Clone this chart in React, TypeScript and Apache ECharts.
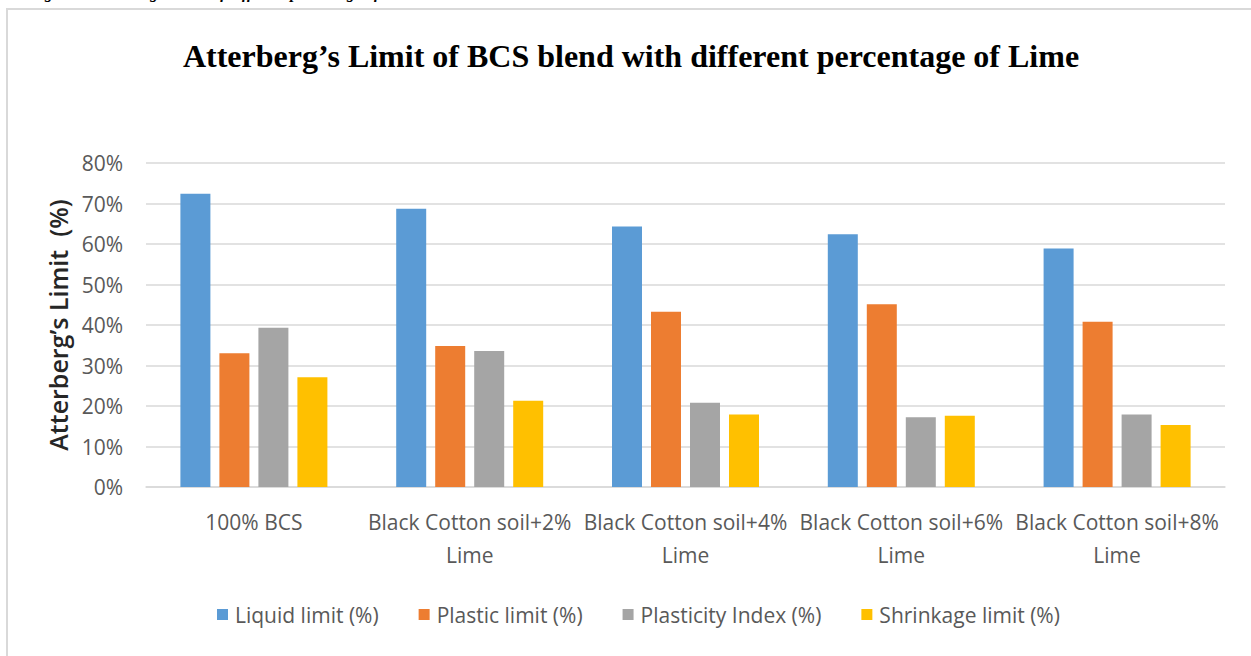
import React, { useEffect, useRef } from "react";
import * as echarts from "echarts";

const categories = [
  "100% BCS",
  "Black Cotton soil+2%\nLime",
  "Black Cotton soil+4%\nLime",
  "Black Cotton soil+6%\nLime",
  "Black Cotton soil+8%\nLime",
];
const seriesNames = [
  "Liquid limit (%)",
  "Plastic limit (%)",
  "Plasticity Index (%)",
  "Shrinkage limit (%)",
];
const liquidLimit = [72.4, 68.7, 64.3, 62.4, 58.9];
const plasticLimit = [33.0, 34.8, 43.3, 45.1, 40.8];
const plasticityIndex = [39.3, 33.6, 20.8, 17.2, 17.9];
const shrinkageLimit = [27.1, 21.3, 17.9, 17.6, 15.3];
const yTicks = [0, 10, 20, 30, 40, 50, 60, 70, 80];
const colors = ["#5B9BD5", "#ED7D31", "#A5A5A5", "#FFC000"];

const titleText = "Atterberg’s Limit of BCS blend with different percentage of Lime";
const captionText = "Figure 4: Atterberg’s Limit of different percentage of Lime";
const yAxisName = "Atterberg’s Limit  (%)";

export default function App() {
  const ref = useRef<HTMLDivElement>(null);
  useEffect(() => {
    document.body.style.margin = "0";
    const chart = echarts.init(ref.current!, null, { renderer: "svg" });
    const values = [liquidLimit, plasticLimit, plasticityIndex, shrinkageLimit];
    const font = "'Open Sans', sans-serif";
    chart.setOption({
      animation: false,
      backgroundColor: "#ffffff",
      grid: { left: 146, right: 26, top: 163, bottom: 169 },
      legend: {
        bottom: 26,
        left: 212,
        itemWidth: 11,
        itemHeight: 11,
        itemGap: 40,
        icon: "rect",
        textStyle: { fontFamily: font, fontSize: 21, color: "#595959", padding: [0, 0, 0, 2] },
        data: seriesNames,
      },
      xAxis: {
        type: "category",
        data: categories,
        axisTick: { show: false },
        axisLine: { lineStyle: { color: "#d9d9d9", width: 1.5 } },
        axisLabel: {
          interval: 0,
          margin: 18,
          fontFamily: font,
          fontSize: 21,
          lineHeight: 33,
          color: "#595959",
        },
      },
      yAxis: {
        type: "value",
        min: yTicks[0],
        max: yTicks[yTicks.length - 1],
        interval: 10,
        name: yAxisName,
        nameLocation: "middle",
        nameGap: 74,
        nameTextStyle: { fontFamily: font, fontSize: 25, fontWeight: 600, color: "#262626" },
        axisLine: { show: false },
        axisTick: { show: false },
        splitLine: { lineStyle: { color: "#d9d9d9", width: 1.5 } },
        axisLabel: {
          margin: 23,
          fontFamily: font,
          fontSize: 21,
          color: "#595959",
          formatter: (v: number) => v + "%",
        },
      },
      series: seriesNames.map((name, i) => ({
        name,
        type: "bar",
        data: values[i],
        barWidth: 30,
        barGap: "30%",
        itemStyle: { color: colors[i] },
      })),
      graphic: [
        {
          type: "rect",
          shape: { x: 7, y: 9, width: 1400, height: 800 },
          style: { fill: "none", stroke: "#d9d9d9", lineWidth: 2 },
          silent: true,
        },
        {
          type: "text",
          x: 30,
          y: -8,
          style: {
            text: captionText,
            fontFamily: "'Liberation Serif', serif",
            fontStyle: "italic",
            fontWeight: "bold",
            fontSize: 16,
            fill: "#000",
            textVerticalAlign: "middle",
          },
        },
        {
          type: "text",
          x: 631,
          y: 56,
          style: {
            text: titleText,
            fontFamily: "'Liberation Serif', serif",
            fontWeight: "bold",
            fontSize: 32,
            fill: "#000",
            textAlign: "center",
            textVerticalAlign: "middle",
          },
        },
      ],
    });
    return () => chart.dispose();
  }, []);
  return <div ref={ref} style={{ width: 1251, height: 656 }} />;
}
